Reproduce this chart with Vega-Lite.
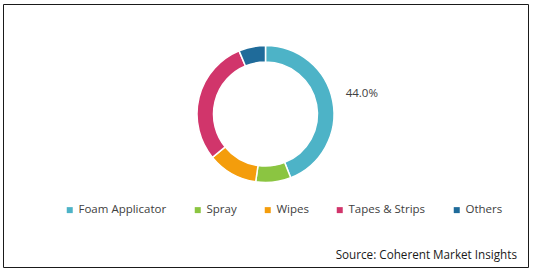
{
  "$schema": "https://vega.github.io/schema/vega-lite/v6.json",
  "width": 525,
  "height": 263,
  "autosize": {"type": "none"},
  "padding": {"left": 3, "top": 4, "right": 5, "bottom": 3},
  "background": "#ffffff",
  "config": {
    "view": {"stroke": "#1a1a1a", "strokeWidth": 1},
    "font": "Open Sans"
  },
  "title": {
    "text": "Source: Coherent Market Insights",
    "orient": "bottom",
    "anchor": "end",
    "offset": -17,
    "dx": -11,
    "fontSize": 11.7,
    "fontWeight": "normal",
    "color": "#1a1a1a",
    "font": "Open Sans"
  },
  "data": {
    "values": [
      {"segment": "Foam Applicator", "share": 44.0, "rank": 1, "label": "44.0%"},
      {"segment": "Spray", "share": 8.3, "rank": 2, "label": ""},
      {"segment": "Wipes", "share": 11.8, "rank": 3, "label": ""},
      {"segment": "Tapes & Strips", "share": 29.6, "rank": 4, "label": ""},
      {"segment": "Others", "share": 6.3, "rank": 5, "label": ""}
    ]
  },
  "encoding": {
    "theta": {"field": "share", "type": "quantitative", "stack": true},
    "order": {"field": "rank", "type": "quantitative"},
    "y": {"datum": 0, "type": "quantitative", "scale": {"domain": [-1.39, 1]}, "axis": null}
  },
  "layer": [
    {
      "mark": {"type": "arc", "radius": 68.5, "radius2": 52, "stroke": "#ffffff", "strokeWidth": 1.5},
      "encoding": {
        "color": {
          "field": "segment",
          "type": "nominal",
          "scale": {
            "domain": ["Foam Applicator", "Spray", "Wipes", "Tapes & Strips", "Others"],
            "range": ["#4db3c7", "#8bc541", "#f49d0c", "#d1356b", "#1f6b9a"]
          },
          "legend": {
            "title": null,
            "orient": "none",
            "direction": "horizontal",
            "columns": 5,
            "legendX": 61,
            "legendY": 200,
            "padding": 0,
            "columnPadding": 25,
            "symbolType": "square",
            "symbolSize": 36,
            "symbolStrokeWidth": 0,
            "labelOffset": 3,
            "labelFontSize": 11.5,
            "labelFont": "Open Sans",
            "labelColor": "#404040"
          }
        }
      }
    },
    {
      "mark": {"type": "text", "radius": 98, "dy": -2, "fontSize": 11.5, "color": "#404040", "font": "Open Sans"},
      "encoding": {
        "text": {"field": "label"}
      }
    }
  ]
}
